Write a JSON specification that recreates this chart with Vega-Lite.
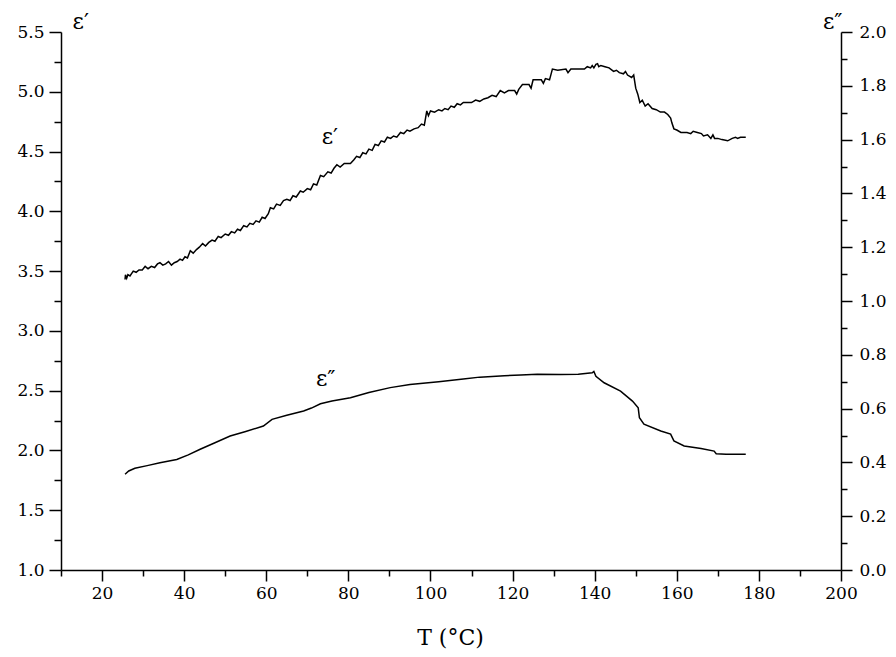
{
  "$schema": "https://vega.github.io/schema/vega-lite/v6.json",
  "width": 780,
  "height": 538,
  "autosize": {"type": "none"},
  "padding": {"left": 61, "top": 32, "right": 55, "bottom": 87},
  "background": "white",
  "config": {
    "view": {"stroke": null},
    "font": "DejaVu Serif",
    "axis": {
      "grid": false,
      "domainColor": "black",
      "domainWidth": 1.5,
      "tickColor": "black",
      "tickWidth": 1.5,
      "labelFont": "DejaVu Serif",
      "labelFontSize": 17,
      "labelColor": "black",
      "titleFont": "DejaVu Serif",
      "titleFontWeight": "normal",
      "titleColor": "black",
      "titleFontSize": 22,
      "labelFlush": false,
      "labelOverlap": false
    }
  },
  "datasets": {
    "eps1": [
      {"T": 25.6, "e1": 3.43}, {"T": 25.7, "e1": 3.47}, {"T": 26.0, "e1": 3.44}, {"T": 26.3, "e1": 3.47},
      {"T": 26.8, "e1": 3.46}, {"T": 27.6, "e1": 3.50}, {"T": 28.3, "e1": 3.49}, {"T": 29, "e1": 3.51},
      {"T": 29.8, "e1": 3.51}, {"T": 30.5, "e1": 3.54}, {"T": 31.2, "e1": 3.52}, {"T": 32, "e1": 3.54},
      {"T": 32.8, "e1": 3.53}, {"T": 33.5, "e1": 3.56}, {"T": 34.1, "e1": 3.57}, {"T": 34.8, "e1": 3.55},
      {"T": 35.5, "e1": 3.56}, {"T": 36.2, "e1": 3.58}, {"T": 36.9, "e1": 3.55}, {"T": 37.6, "e1": 3.57},
      {"T": 38.3, "e1": 3.58}, {"T": 39, "e1": 3.60}, {"T": 39.6, "e1": 3.59}, {"T": 40.2, "e1": 3.62},
      {"T": 40.8, "e1": 3.61}, {"T": 41.5, "e1": 3.67}, {"T": 42.2, "e1": 3.65}, {"T": 43, "e1": 3.68},
      {"T": 43.7, "e1": 3.70}, {"T": 44.5, "e1": 3.73}, {"T": 45.2, "e1": 3.71}, {"T": 46, "e1": 3.74},
      {"T": 46.8, "e1": 3.76}, {"T": 47.5, "e1": 3.75}, {"T": 48.3, "e1": 3.79}, {"T": 49, "e1": 3.78},
      {"T": 50, "e1": 3.81}, {"T": 50.8, "e1": 3.80}, {"T": 51.5, "e1": 3.83}, {"T": 52.3, "e1": 3.82},
      {"T": 53, "e1": 3.85}, {"T": 53.7, "e1": 3.84}, {"T": 54.5, "e1": 3.88}, {"T": 55.3, "e1": 3.87},
      {"T": 56, "e1": 3.90}, {"T": 56.8, "e1": 3.89}, {"T": 57.5, "e1": 3.92}, {"T": 58.3, "e1": 3.91},
      {"T": 59, "e1": 3.95}, {"T": 59.7, "e1": 3.94}, {"T": 60.5, "e1": 3.98}, {"T": 61, "e1": 4.03},
      {"T": 61.8, "e1": 4.02}, {"T": 62.5, "e1": 4.06}, {"T": 63.4, "e1": 4.05}, {"T": 64.2, "e1": 4.09},
      {"T": 65, "e1": 4.10}, {"T": 65.8, "e1": 4.09}, {"T": 66.5, "e1": 4.13}, {"T": 67.3, "e1": 4.12},
      {"T": 68.3, "e1": 4.17}, {"T": 69, "e1": 4.16}, {"T": 70, "e1": 4.19}, {"T": 70.8, "e1": 4.18},
      {"T": 71.5, "e1": 4.23}, {"T": 72.3, "e1": 4.22}, {"T": 73.2, "e1": 4.30}, {"T": 74, "e1": 4.29},
      {"T": 75, "e1": 4.33}, {"T": 75.8, "e1": 4.32}, {"T": 76.5, "e1": 4.36}, {"T": 77.2, "e1": 4.39},
      {"T": 78, "e1": 4.37}, {"T": 79, "e1": 4.40}, {"T": 80.5, "e1": 4.40}, {"T": 81.3, "e1": 4.43},
      {"T": 82, "e1": 4.46}, {"T": 82.8, "e1": 4.45}, {"T": 83.5, "e1": 4.49}, {"T": 84.3, "e1": 4.48},
      {"T": 85, "e1": 4.52}, {"T": 85.8, "e1": 4.51}, {"T": 86.5, "e1": 4.56}, {"T": 87.3, "e1": 4.55},
      {"T": 88, "e1": 4.59}, {"T": 88.8, "e1": 4.58}, {"T": 89.5, "e1": 4.62}, {"T": 90.3, "e1": 4.61},
      {"T": 91, "e1": 4.63}, {"T": 91.8, "e1": 4.62}, {"T": 92.7, "e1": 4.66}, {"T": 93.5, "e1": 4.65},
      {"T": 94.3, "e1": 4.68}, {"T": 95, "e1": 4.67}, {"T": 96, "e1": 4.69}, {"T": 97, "e1": 4.70},
      {"T": 97.8, "e1": 4.73}, {"T": 98.5, "e1": 4.72}, {"T": 98.8, "e1": 4.78}, {"T": 99.1, "e1": 4.84},
      {"T": 99.5, "e1": 4.80}, {"T": 100, "e1": 4.84}, {"T": 101, "e1": 4.83}, {"T": 102, "e1": 4.85},
      {"T": 102.8, "e1": 4.84}, {"T": 103.5, "e1": 4.86}, {"T": 104.3, "e1": 4.85}, {"T": 105, "e1": 4.88},
      {"T": 105.8, "e1": 4.87}, {"T": 106.5, "e1": 4.90}, {"T": 107.3, "e1": 4.89}, {"T": 108, "e1": 4.91},
      {"T": 110, "e1": 4.91}, {"T": 111, "e1": 4.93}, {"T": 112, "e1": 4.92}, {"T": 113, "e1": 4.94},
      {"T": 114, "e1": 4.95}, {"T": 115, "e1": 4.97}, {"T": 116, "e1": 4.96}, {"T": 117, "e1": 5.01},
      {"T": 118, "e1": 4.99}, {"T": 119, "e1": 5.01}, {"T": 120.5, "e1": 5.01}, {"T": 121, "e1": 4.98},
      {"T": 121.5, "e1": 5.02}, {"T": 122.4, "e1": 5.06}, {"T": 124, "e1": 5.06}, {"T": 124.5, "e1": 5.03},
      {"T": 125, "e1": 5.10}, {"T": 127, "e1": 5.10}, {"T": 127.5, "e1": 5.07}, {"T": 128, "e1": 5.11},
      {"T": 129, "e1": 5.10}, {"T": 129.7, "e1": 5.19}, {"T": 131, "e1": 5.18}, {"T": 133, "e1": 5.19},
      {"T": 133.5, "e1": 5.16}, {"T": 134.2, "e1": 5.19}, {"T": 137.5, "e1": 5.19}, {"T": 138.2, "e1": 5.21},
      {"T": 139, "e1": 5.20}, {"T": 139.4, "e1": 5.22}, {"T": 139.8, "e1": 5.20}, {"T": 140.3, "e1": 5.23},
      {"T": 140.7, "e1": 5.235}, {"T": 141, "e1": 5.21}, {"T": 141.5, "e1": 5.22}, {"T": 142.5, "e1": 5.21},
      {"T": 143.5, "e1": 5.20}, {"T": 144.6, "e1": 5.17}, {"T": 145.3, "e1": 5.18}, {"T": 146, "e1": 5.16},
      {"T": 147, "e1": 5.15}, {"T": 147.5, "e1": 5.17}, {"T": 148, "e1": 5.14}, {"T": 149, "e1": 5.12},
      {"T": 149.5, "e1": 5.14}, {"T": 150, "e1": 5.03}, {"T": 150.5, "e1": 4.98}, {"T": 151, "e1": 4.91},
      {"T": 151.6, "e1": 4.93}, {"T": 152.3, "e1": 4.88}, {"T": 153, "e1": 4.90}, {"T": 154, "e1": 4.86},
      {"T": 155, "e1": 4.85}, {"T": 156, "e1": 4.83}, {"T": 157, "e1": 4.83}, {"T": 157.8, "e1": 4.81},
      {"T": 158.5, "e1": 4.78}, {"T": 158.8, "e1": 4.74}, {"T": 159.3, "e1": 4.69}, {"T": 160, "e1": 4.68},
      {"T": 161, "e1": 4.66}, {"T": 162.5, "e1": 4.66}, {"T": 163.4, "e1": 4.65}, {"T": 164, "e1": 4.67},
      {"T": 165, "e1": 4.66}, {"T": 166, "e1": 4.65}, {"T": 166.5, "e1": 4.63}, {"T": 167.5, "e1": 4.64},
      {"T": 168.3, "e1": 4.61}, {"T": 168.8, "e1": 4.64}, {"T": 169.2, "e1": 4.61}, {"T": 170, "e1": 4.61},
      {"T": 171, "e1": 4.60}, {"T": 172.4, "e1": 4.59}, {"T": 173.5, "e1": 4.61}, {"T": 174.3, "e1": 4.62},
      {"T": 174.8, "e1": 4.61}, {"T": 175.5, "e1": 4.62}, {"T": 176.8, "e1": 4.62}
    ],
    "eps2": [
      {"T": 25.6, "e2": 0.356}, {"T": 26.5, "e2": 0.368}, {"T": 28, "e2": 0.378}, {"T": 31, "e2": 0.388},
      {"T": 34.1, "e2": 0.399}, {"T": 38.2, "e2": 0.411}, {"T": 41, "e2": 0.428}, {"T": 43.9, "e2": 0.449},
      {"T": 47.5, "e2": 0.473}, {"T": 51.2, "e2": 0.498}, {"T": 55, "e2": 0.515}, {"T": 59.3, "e2": 0.535},
      {"T": 61.4, "e2": 0.56}, {"T": 65, "e2": 0.575}, {"T": 69.1, "e2": 0.591}, {"T": 71, "e2": 0.602},
      {"T": 73.2, "e2": 0.618}, {"T": 76, "e2": 0.628}, {"T": 80.5, "e2": 0.640}, {"T": 85, "e2": 0.660},
      {"T": 90.2, "e2": 0.678}, {"T": 95, "e2": 0.690}, {"T": 102, "e2": 0.700}, {"T": 108, "e2": 0.710},
      {"T": 112, "e2": 0.717}, {"T": 118, "e2": 0.722}, {"T": 122, "e2": 0.725}, {"T": 126, "e2": 0.728},
      {"T": 131.7, "e2": 0.727}, {"T": 136, "e2": 0.728}, {"T": 139.4, "e2": 0.733}, {"T": 139.8, "e2": 0.738},
      {"T": 140.3, "e2": 0.72}, {"T": 142.3, "e2": 0.696}, {"T": 146.3, "e2": 0.665}, {"T": 149.2, "e2": 0.628},
      {"T": 150.6, "e2": 0.603}, {"T": 150.9, "e2": 0.566}, {"T": 152, "e2": 0.542}, {"T": 156.1, "e2": 0.517},
      {"T": 158.5, "e2": 0.505}, {"T": 159.3, "e2": 0.48}, {"T": 161.8, "e2": 0.461}, {"T": 165.9, "e2": 0.452},
      {"T": 169.1, "e2": 0.442}, {"T": 169.6, "e2": 0.432}, {"T": 172, "e2": 0.430}, {"T": 176.8, "e2": 0.430}
    ],
    "labels": [
      {"T": 75.5, "e1": 4.62, "txt": "ε′"},
      {"T": 74.5, "e1": 2.6, "txt": "ε″"}
    ]
  },
  "layer": [
    {
      "layer": [
        {
          "data": {"name": "eps1"},
          "mark": {"type": "line", "color": "black", "strokeWidth": 1.5},
          "encoding": {
            "x": {
              "field": "T", "type": "quantitative",
              "scale": {"domain": [10, 200], "nice": false, "zero": false},
              "axis": {
                "orient": "bottom",
                "title": "T (°C)",
                "values": [20, 40, 60, 80, 100, 120, 140, 160, 180, 200],
                "tickSize": 11,
                "labelPadding": 4,
                "titleBaseline": "alphabetic",
                "titleY": 74,
                "titleX": 389
              }
            },
            "y": {
              "field": "e1", "type": "quantitative",
              "scale": {"domain": [1, 5.5], "nice": false, "zero": false},
              "axis": {
                "orient": "left",
                "title": "ε′",
                "format": ".1f",
                "values": [1, 1.5, 2, 2.5, 3, 3.5, 4, 4.5, 5, 5.5],
                "tickSize": 12,
                "labelPadding": 5,
                "titleAngle": 0,
                "titleAlign": "left",
                "titleBaseline": "alphabetic",
                "titleX": 11,
                "titleY": -4
              }
            }
          }
        },
        {
          "data": {"name": "eps1"},
          "mark": {"type": "line", "opacity": 0},
          "encoding": {
            "x": {
              "field": "T", "type": "quantitative",
              "axis": {
                "orient": "bottom",
                "title": null,
                "values": [10, 30, 50, 70, 90, 110, 130, 150, 170, 190],
                "tickSize": 6,
                "labels": false,
                "domain": false
              }
            },
            "y": {
              "field": "e1", "type": "quantitative",
              "axis": {
                "orient": "left",
                "title": null,
                "values": [1.25, 1.75, 2.25, 2.75, 3.25, 3.75, 4.25, 4.75, 5.25],
                "tickSize": 7,
                "labels": false,
                "domain": false
              }
            }
          }
        },
        {
          "data": {"name": "labels"},
          "mark": {"type": "text", "font": "DejaVu Serif", "fontSize": 22, "color": "black"},
          "encoding": {
            "x": {"field": "T", "type": "quantitative", "axis": null},
            "y": {"field": "e1", "type": "quantitative", "axis": null},
            "text": {"field": "txt"}
          }
        }
      ],
      "resolve": {"axis": {"x": "independent", "y": "independent"}}
    },
    {
      "layer": [
        {
          "data": {"name": "eps2"},
          "mark": {"type": "line", "color": "black", "strokeWidth": 1.5},
          "encoding": {
            "x": {"field": "T", "type": "quantitative", "axis": null},
            "y": {
              "field": "e2", "type": "quantitative",
              "scale": {"domain": [0, 2], "nice": false, "zero": false},
              "axis": {
                "orient": "right",
                "title": "ε″",
                "format": ".1f",
                "values": [0, 0.2, 0.4, 0.6, 0.8, 1, 1.2, 1.4, 1.6, 1.8, 2],
                "tickSize": 11,
                "labelPadding": 7,
                "titleAngle": 0,
                "titleAlign": "right",
                "titleBaseline": "alphabetic",
                "titleX": 1,
                "titleY": -4
              }
            }
          }
        },
        {
          "data": {"name": "eps2"},
          "mark": {"type": "line", "opacity": 0},
          "encoding": {
            "x": {"field": "T", "type": "quantitative", "axis": null},
            "y": {
              "field": "e2", "type": "quantitative",
              "axis": {
                "orient": "right",
                "title": null,
                "values": [0.1, 0.3, 0.5, 0.7, 0.9, 1.1, 1.3, 1.5, 1.7, 1.9],
                "tickSize": 6,
                "labels": false,
                "domain": false
              }
            }
          }
        }
      ],
      "resolve": {"axis": {"y": "independent"}}
    }
  ],
  "resolve": {"scale": {"y": "independent"}, "axis": {"x": "independent"}}
}
